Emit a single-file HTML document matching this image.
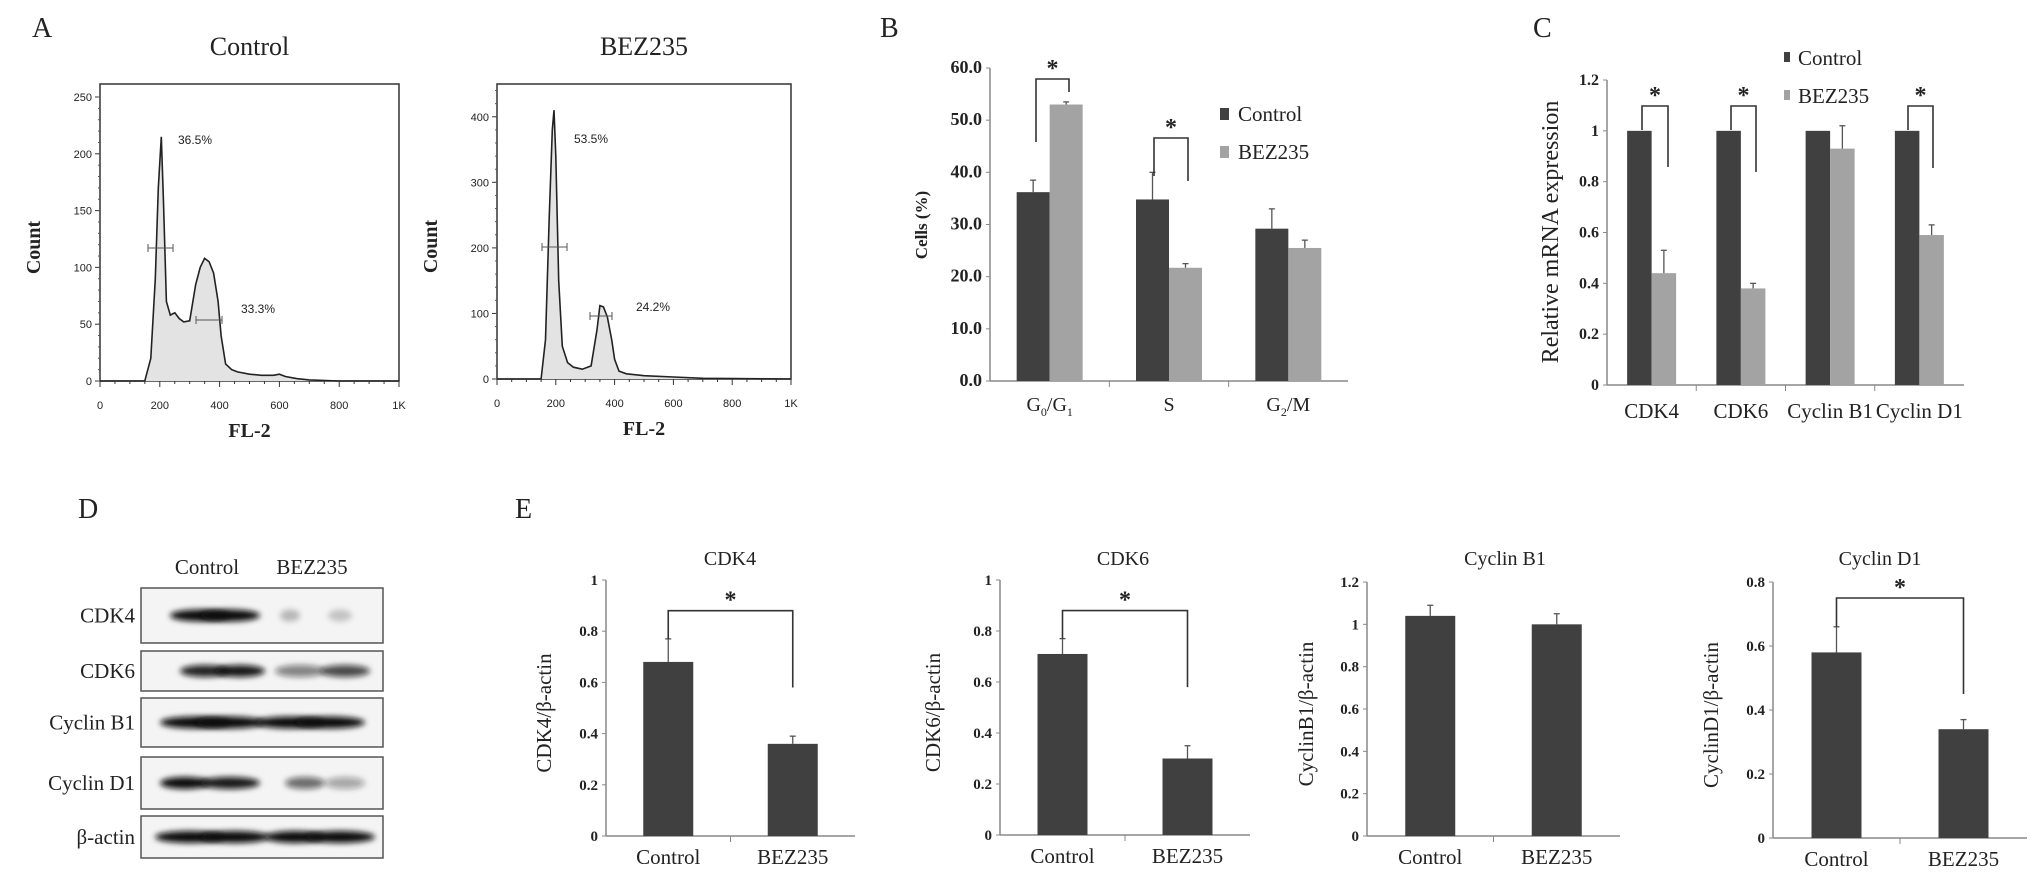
<!DOCTYPE html>
<html><head><meta charset="utf-8"><style>
html,body{margin:0;padding:0;background:#fff;}
svg{display:block;}
text{font-family:"Liberation Serif",serif;fill:#222;}
.sans{font-family:"Liberation Sans",sans-serif;}
</style></head><body>
<svg id="fig" width="2031" height="889" viewBox="0 0 2031 889" xmlns="http://www.w3.org/2000/svg">
<defs><filter id="blur" x="-20%" y="-50%" width="140%" height="200%"><feGaussianBlur stdDeviation="3"/></filter></defs>
<text x="32" y="37" font-size="28">A</text>
<text x="880" y="37" font-size="28">B</text>
<text x="1533" y="37" font-size="28">C</text>
<text x="78" y="518" font-size="28">D</text>
<text x="515" y="518" font-size="28">E</text>
<g id="g"></g>
</svg>
<script>
// ---------- Data ----------
const histCtrlChannels = [0,150,170,185,195,205,212,222,235,250,265,280,300,320,335,350,365,380,395,405,420,440,460,500,540,580,600,620,660,700,800,1000];
const histCtrlCounts   = [0,0,20,90,170,215,160,70,58,60,55,52,53,85,100,108,105,95,70,40,15,10,8,6,5,5,6,4,2,1,0,0];
const histBezChannels  = [0,150,165,178,188,194,200,210,222,240,260,290,320,340,350,362,375,390,400,415,440,500,600,700,1000];
const histBezCounts    = [0,0,60,250,380,410,340,150,50,25,18,15,20,75,112,110,95,60,30,12,8,5,3,1,0];
const phaseCats = ["G0/G1","S","G2/M"];
const phaseCtrl = [36.2,34.8,29.2];
const phaseCtrlErr = [2.3,5.2,3.8];
const phaseBez = [53.0,21.7,25.5];
const phaseBezErr = [0.5,0.8,1.5];
const mrnaCats = ["CDK4","CDK6","Cyclin B1","Cyclin D1"];
const mrnaCtrl = [1,1,1,1];
const mrnaBez = [0.44,0.38,0.93,0.59];
const mrnaBezErr = [0.09,0.02,0.09,0.04];
const protCats = ["Control","BEZ235"];
const cdk4Vals = [0.68,0.36]; const cdk4Err = [0.09,0.03];
const cdk6Vals = [0.71,0.30]; const cdk6Err = [0.06,0.05];
const ccnb1Vals = [1.04,1.00]; const ccnb1Err = [0.05,0.05];
const ccnd1Vals = [0.58,0.34]; const ccnd1Err = [0.08,0.03];
const phaseTicks = [0,10,20,30,40,50,60];
const mrnaTicks = [0,0.2,0.4,0.6,0.8,1,1.2];

const NS="http://www.w3.org/2000/svg";
const G=document.getElementById('g');
function el(tag,attrs,parent){const e=document.createElementNS(NS,tag);for(const k in attrs)e.setAttribute(k,attrs[k]);(parent||G).appendChild(e);return e;}
function txt(x,y,s,size,attrs){const t=el('text',Object.assign({x:x,y:y,'font-size':size},attrs||{}));t.textContent=s;return t;}

// ---------- Histograms ----------
function histogram(name,title,x0,x1,yTop,yBot,maxY,tickStep,chs,cnts,labels,markers){
  const sx=v=>x0+(v/1000)*(x1-x0);
  const sy=v=>yBot-(v/maxY)*(yBot-yTop-(name==='ctrl'?13:0));
  let t=txt((x0+x1)/2,55,title,26,{'text-anchor':'middle'});
  
  
  let box=el('rect',{x:x0,y:yTop,width:x1-x0,height:yBot-yTop,fill:'none',stroke:'#333','stroke-width':1.5});
  
  
  let d='M'+sx(chs[0])+','+sy(cnts[0]);
  for(let i=1;i<chs.length;i++) d+=' L'+sx(chs[i]).toFixed(1)+','+sy(cnts[i]).toFixed(1);
  let area=el('path',{d:d+' L'+x1+','+yBot+' L'+x0+','+yBot+'Z',fill:'#e3e3e3',stroke:'none'});
  
  
  let line=el('path',{d:d,fill:'none',stroke:'#222','stroke-width':1.6});
  
  
  for(let v=0;v<=maxY;v+=tickStep){
    const y=sy(v);
    el('line',{x1:x0-5,x2:x0,y1:y,y2:y,stroke:'#333'});
    let tl=txt(x0-8,y+4,String(v),11,{'text-anchor':'end',class:'sans',fill:'#444'});
    
    
  }
  for(let v=0;v<=maxY;v+=tickStep/5){const y=sy(v);el('line',{x1:x0-2,x2:x0,y1:y,y2:y,stroke:'#555'});}
  const xl=[0,200,400,600,800,1000];
  for(let i=0;i<=20;i++){const x=sx(i*50);el('line',{x1:x,x2:x,y1:yBot,y2:yBot+(i%4===0?6:3),stroke:'#333'});}
  xl.forEach(v=>{let tl=txt(sx(v),yBot+28,v===1000?'1K':String(v),11,{'text-anchor':'middle',class:'sans',fill:'#444'});
    
    });
  let xt=txt((x0+x1)/2,yBot+56,'FL-2',20,{'text-anchor':'middle','font-weight':'bold'});
  
  
  let yt=txt(0,0,'Count',20,{'text-anchor':'middle','font-weight':'bold',transform:'translate('+(x0-60)+','+((yTop+yBot)/2+15)+') rotate(-90)'});
  
  
  labels.forEach(l=>{let p=txt(l[0],l[1],l[2],12,{class:'sans',fill:'#444'});
    
    });
  markers.forEach(m=>{el('line',{x1:m[0],x2:m[1],y1:m[2],y2:m[2],stroke:'#555'});
    el('line',{x1:m[0],x2:m[0],y1:m[2]-4,y2:m[2]+4,stroke:'#555'});
    el('line',{x1:m[1],x2:m[1],y1:m[2]-4,y2:m[2]+4,stroke:'#555'});});
}
histogram('ctrl','Control',100,399,84,381,250,50,histCtrlChannels,histCtrlCounts,
  [[178,144,'36.5%'],[241,313,'33.3%']],[[148,173,248],[196,222,320]]);
histogram('bez','BEZ235',497,791,84,379,450,100,histBezChannels,histBezCounts,
  [[574,143,'53.5%'],[636,311,'24.2%']],[[542,567,247],[590,612,316]]);

// ---------- Generic bar chart ----------
function barChart(o){
  const sy=v=>o.y0-(v/o.max)*(o.y0-o.yTopVal);
  el('line',{x1:o.ax,x2:o.ax,y1:sy(o.max),y2:o.y0,stroke:'#888','stroke-width':1.5});
  el('line',{x1:o.ax,x2:o.axEnd,y1:o.y0,y2:o.y0,stroke:'#888','stroke-width':1.5});
  o.ticks.forEach(v=>{const y=sy(v);el('line',{x1:o.ax-4,x2:o.ax,y1:y,y2:y,stroke:'#888'});
    let t=txt(o.ax-8,y+5,o.fmt(v),o.tickSize,{'text-anchor':'end','font-weight':'bold'});
    
    });
  const n=o.cats.length, gw=(o.axEnd-o.ax)/n;
  for(let i=1;i<n;i++){el('line',{x1:o.ax+gw*i,x2:o.ax+gw*i,y1:o.y0,y2:o.y0+6,stroke:'#888'});}
  o.cats.forEach((c,i)=>{
    const cx=o.ax+gw*(i+0.5);
    o.series.forEach((s,j)=>{
      const x=cx+o.offsets[j]*o.bw - (o.series.length===1?o.bw/2:0);
      const v=s.vals[i], e=s.err?s.err[i]:0;
      let r=el('rect',{x:x,y:sy(v),width:o.bw,height:o.y0-sy(v),fill:s.color});
      
      
      if(e>0){const mx=x+o.bw/2;el('line',{x1:mx,x2:mx,y1:sy(v),y2:sy(v+e),stroke:'#555','stroke-width':1.3});
        el('line',{x1:mx-3,x2:mx+3,y1:sy(v+e),y2:sy(v+e),stroke:'#555','stroke-width':1.3});}
    });
    if(o.labelFn){o.labelFn(cx,i);} else {
      let t=txt(cx,o.y0+o.labelDy,c,o.labelSize,{'text-anchor':'middle'});
      
      }
  });
  return {sy:sy,gw:gw};
}
function bracket(xa,xb,yTop,ya,yb){
  const b=el('path',{d:'M'+xa+','+ya+' L'+xa+','+yTop+' L'+xb+','+yTop+' L'+xb+','+yb,fill:'none',stroke:'#333','stroke-width':1.6});
  
  
  const s=txt((xa+xb)/2,yTop-3,'*',24,{'text-anchor':'middle','font-weight':'bold'});
  
  
}

// ---------- Panel B ----------
const B=barChart({ax:990,axEnd:1348,y0:381,yTopVal:68,max:60,ticks:phaseTicks,fmt:v=>v.toFixed(1),tickSize:18,
  cats:phaseCats,bw:33,offsets:[-1,0],labelDy:30,labelSize:20,
  series:[{key:'control',vals:phaseCtrl,err:phaseCtrlErr,color:'#404040'},{key:'bez235',vals:phaseBez,err:phaseBezErr,color:'#a3a3a3'}],
  labelFn:(cx,i)=>{
    const lab=[['G','0','/G','1'],['S'],['G','2','/M']][i];
    const t=el('text',{x:cx,y:411,'font-size':20,'text-anchor':'middle'});
    
    
    lab.forEach((p,k)=>{const ts=el('tspan',{},t);if(k%2===1){ts.setAttribute('font-size',12);ts.setAttribute('dy',5);}else if(k>0){ts.setAttribute('dy',-5);}ts.textContent=p;});
  }});
(function(){const yt=txt(0,0,'Cells (%)',17,{'text-anchor':'middle','font-weight':'bold',transform:'translate(927,225) rotate(-90)'});
  
  })();
bracket(1036,1069,79,142,92);
bracket(1154,1188,138,176,181);
[['Control','#404040',117],['BEZ235','#a3a3a3',155]].forEach((l,i)=>{
  const r=el('rect',{x:1220,y:l[2]-9,width:9,height:12,fill:l[1]});
  
  
  const t=txt(1238,l[2]+4,l[0],21);
  
  
});

// ---------- Panel C ----------
barChart({ax:1607,axEnd:1964,y0:385,yTopVal:80,max:1.2,ticks:mrnaTicks,fmt:v=>String(+v.toFixed(1)),tickSize:16,
  cats:mrnaCats,bw:24.5,offsets:[-1,0],labelDy:33,labelSize:21,
  series:[{key:'control',vals:mrnaCtrl,err:null,color:'#404040'},{key:'bez235',vals:mrnaBez,err:mrnaBezErr,color:'#a3a3a3'}]});
(function(){const yt=txt(0,0,'Relative mRNA expression',24,{'text-anchor':'middle',transform:'translate(1558,232) rotate(-90)'});
  
  })();
bracket(1642,1668,106,130,167);
bracket(1731,1756,106,130,172);
bracket(1908,1933,106,130,168);
[['Control','#404040',60],['BEZ235','#a3a3a3',98]].forEach((l,i)=>{
  const r=el('rect',{x:1784,y:l[2]-8,width:6,height:10,fill:l[1]});
  
  
  const t=txt(1798,l[2]+5,l[0],21);
  
  
});

// ---------- Panel D (western blot) ----------
const blotRows=[['CDK4',588,643,[[200,30,1],[230,30,1],[290,10,0.25],[340,12,0.2]]],
 ['CDK6',651,691,[[205,25,0.9],[240,25,0.95],[300,25,0.5],[345,25,0.75]]],
 ['Cyclin B1',698,747,[[195,35,1],[230,35,1],[290,35,1],[330,35,1]]],
 ['Cyclin D1',757,809,[[185,25,1],[230,30,0.95],[305,20,0.6],[345,20,0.35]]],
 ['β-actin',816,858,[[190,35,1],[235,35,1],[295,30,1],[340,35,1]]]];
let h1=txt(207,574,'Control',21,{'text-anchor':'middle'});
let h2=txt(312,574,'BEZ235',21,{'text-anchor':'middle'});
blotRows.forEach((r,i)=>{
  const box=el('rect',{x:141,y:r[1],width:242,height:r[2]-r[1],fill:'#f4f4f4',stroke:'#555','stroke-width':1.5});
  
  
  const cy=(r[1]+r[2])/2;
  r[3].forEach(b=>{el('ellipse',{cx:b[0],cy:cy,rx:b[1],ry:6,fill:'#111','fill-opacity':b[2],filter:'url(#blur)'});});
  const t=txt(135,cy+7,r[0],21,{'text-anchor':'end'});
  
  
});

// ---------- Panel E ----------
function ePanel(name,title,yLabel,ax,axEnd,y0,yTop,max,ticks,vals,err,titleX,ytX,br){
  const o=barChart({ax:ax,axEnd:axEnd,y0:y0,yTopVal:yTop,max:max,ticks:ticks,fmt:v=>String(+v.toFixed(1)),tickSize:15,
    cats:protCats,bw:50,offsets:[0],labelDy:28,labelSize:21,
    series:[{key:name,vals:vals,err:err,color:'#404040'}]});
  const t=txt(titleX,565,title,20,{'text-anchor':'middle'});
  
  
  const yt=txt(0,0,yLabel,21,{'text-anchor':'middle',transform:'translate('+ytX+','+((y0+yTop)/2+5)+') rotate(-90)'});
  
  
  if(br){const c1=ax+o.gw*0.5,c2=ax+o.gw*1.5;bracket(c1,c2,o.sy(br),o.sy(vals[0]+err[0]),o.sy(br-0.3));}
}
ePanel('cdk4','CDK4','CDK4/β-actin',606,855,836,580,1,[0,0.2,0.4,0.6,0.8,1],cdk4Vals,cdk4Err,730,551,0.88);
ePanel('cdk6','CDK6','CDK6/β-actin',1000,1250,835,580,1,[0,0.2,0.4,0.6,0.8,1],cdk6Vals,cdk6Err,1123,940,0.88);
ePanel('ccnb1','Cyclin B1','CyclinB1/β-actin',1367,1620,836,582,1.2,[0,0.2,0.4,0.6,0.8,1,1.2],ccnb1Vals,ccnb1Err,1505,1313,0);
ePanel('ccnd1','Cyclin D1','CyclinD1/β-actin',1773,2027,838,582,0.8,[0,0.2,0.4,0.6,0.8],ccnd1Vals,ccnd1Err,1880,1718,0.75);
</script>
</body></html>
